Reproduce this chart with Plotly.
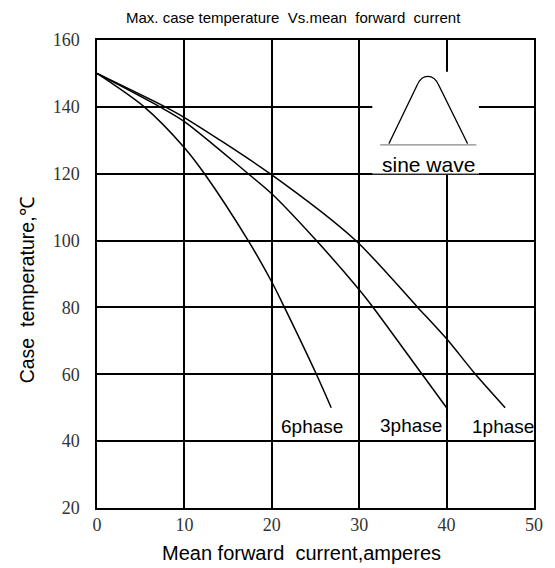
import plotly.graph_objects as go

# ---- data ----
x_1phase = [0, 7.8, 10, 19.8, 29.6, 36.7, 40, 43.3, 46.7]
y_1phase = [150, 140, 136.8, 120, 100, 80, 70.6, 60, 50]

x_3phase = [0, 7.2, 10, 17.3, 20, 25.1, 30, 31.6, 37.2, 40]
y_3phase = [150, 140, 135.6, 120, 114, 100, 85.3, 80, 60, 50]

x_6phase = [0, 5.4, 10, 12.3, 17.3, 20, 21.45, 25.1, 26.8]
y_6phase = [150, 140, 127.8, 120, 100, 87.6, 80, 60, 50]

series_names = ["1phase", "3phase", "6phase"]
x_ticks = [0, 10, 20, 30, 40, 50]
y_ticks = [20, 40, 60, 80, 100, 120, 140, 160]

SANS = "Liberation Sans, Arial, sans-serif"
SERIF = "Liberation Serif, Times New Roman, serif"

fig = go.Figure()
for name, xs, ys in zip(series_names, [x_1phase, x_3phase, x_6phase], [y_1phase, y_3phase, y_6phase]):
    fig.add_trace(go.Scatter(x=xs, y=ys, mode="lines", name=name,
                             line=dict(color="black", width=1.5, shape="spline", smoothing=0.8),
                             showlegend=False, hoverinfo="skip"))

# curve labels
label_pos = {"6phase": (24.6, 44.5), "3phase": (35.9, 44.7), "1phase": (46.5, 44.5)}
for name in series_names:
    lx, ly = label_pos[name]
    fig.add_annotation(x=lx, y=ly, text=name, showarrow=False,
                       font=dict(family=SANS, size=19, color="black"))

# inset "sine wave" icon
fig.add_shape(type="rect", x0=31.5, x1=43.7, y0=120.2, y1=150.5, xref="x", yref="y",
              fillcolor="white", line=dict(width=0), layer="above")
fig.add_shape(type="line", x0=31.5, x1=43.7, y0=120, y1=120, xref="x", yref="y",
              line=dict(color="#999999", width=1.2), layer="above")
fig.add_shape(type="line", x0=32.4, x1=43.4, y0=128.6, y1=128.6, xref="x", yref="y",
              line=dict(color="#888888", width=1.2), layer="above")
fig.add_shape(type="path",
              path="M 33.4,129.0 L 36.63,146.5 C 37.2,150.0 38.5,150.0 39.1,146.5 L 42.4,129.0",
              xref="x", yref="y", line=dict(color="black", width=1.2), layer="above")
fig.add_annotation(x=37.96, y=122.8, text="sine wave", showarrow=False,
                   font=dict(family=SANS, size=21, color="black"))

# axis titles and chart title placed as paper annotations
fig.add_annotation(xref="paper", yref="paper", x=0.467, y=-0.0962,
                   text="Mean forward  current,amperes", showarrow=False,
                   xanchor="center", yanchor="middle",
                   font=dict(family=SANS, size=20, color="black"))
fig.add_annotation(xref="paper", yref="paper", x=-0.1595, y=0.4658,
                   text="Case  temperature,℃", showarrow=False, textangle=-90,
                   xanchor="center", yanchor="middle",
                   font=dict(family=SANS, size=19.5, color="black"))
fig.add_annotation(xref="paper", yref="paper", x=0.4487, y=1.049,
                   text="Max. case temperature  Vs.mean  forward  current", showarrow=False,
                   xanchor="center", yanchor="middle",
                   font=dict(family=SANS, size=15, color="black"))

# page body has an 8px margin: shrink figure so plot area lands on the reference pixels
fig.update_layout(
    width=547, height=560,
    margin=dict(l=89, r=19, t=32, b=60),
    paper_bgcolor="white", plot_bgcolor="white",
    xaxis=dict(range=[0, 50], tickvals=x_ticks, ticktext=[str(v) for v in x_ticks],
               showgrid=True, gridcolor="black", gridwidth=1.5,
               showline=True, linecolor="black", linewidth=1.5, mirror=True,
               ticks="", zeroline=False,
               tickfont=dict(family=SERIF, size=18, color="#333333")),
    yaxis=dict(range=[20, 160], tickvals=y_ticks, ticktext=[str(v) for v in y_ticks],
               showgrid=True, gridcolor="black", gridwidth=1.5,
               showline=True, linecolor="black", linewidth=1.5, mirror=True,
               ticks="", zeroline=False, ticklabelstandoff=12,
               tickfont=dict(family=SERIF, size=18, color="#333333")),
)

fig.write_html("out.html")
